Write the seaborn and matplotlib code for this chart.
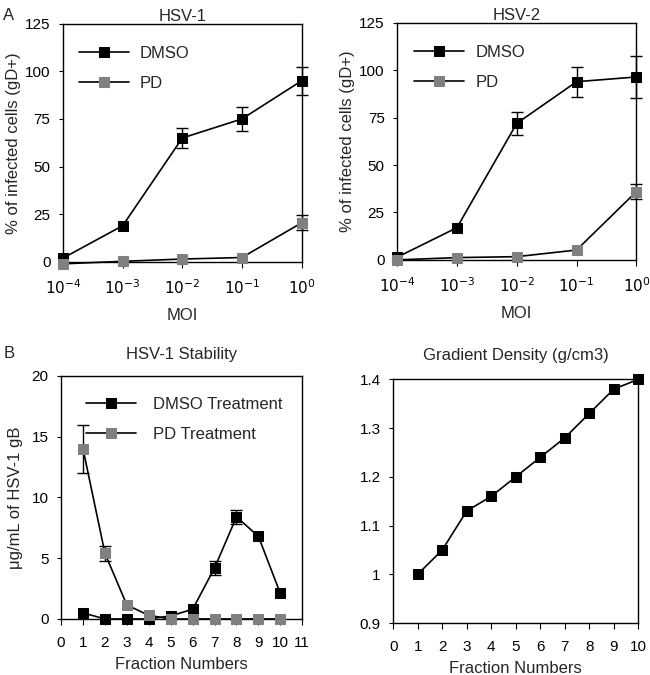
import numpy as np
import pandas as pd
import matplotlib
matplotlib.use("Agg")
import matplotlib.pyplot as plt
import seaborn as sns

# MOI infection data
moi = [1e-4, 1e-3, 1e-2, 1e-1, 1e0]
hsv1_dmso = [2, 19, 65, 75, 95]
hsv1_dmso_err = [0, 0, 5, 6.5, 7.5]
hsv1_pd = [-1, 0.3, 1.5, 2.3, 20.5]
hsv1_pd_err = [0, 0, 0, 0, 4]
hsv2_dmso = [1.4, 17, 72, 94, 96.5]
hsv2_dmso_err = [0, 0, 6, 8, 11]
hsv2_pd = [0, 1.2, 1.7, 5.2, 36]
hsv2_pd_err = [0, 0, 0, 0, 4]

# stability data
fractions = [1, 2, 3, 4, 5, 6, 7, 8, 9, 10]
stab_dmso = [0.5, 0, 0, 0, 0.25, 0.8, 4.2, 8.4, 6.8, 2.1]
stab_dmso_err = [0, 0, 0, 0, 0, 0, 0.6, 0.6, 0, 0]
stab_pd = [14, 5.4, 1.15, 0.3, 0, 0, 0, 0, 0, 0]
stab_pd_err = [2, 0.6, 0, 0, 0, 0, 0, 0, 0, 0]
density = [1.0, 1.05, 1.13, 1.16, 1.2, 1.24, 1.28, 1.33, 1.38, 1.4]

sns.set_style("ticks")
plt.rcParams['font.family'] = ['Liberation Sans', 'DejaVu Sans']
plt.rcParams['axes.linewidth'] = 1.0
plt.rcParams['xtick.major.size'] = 4
plt.rcParams['ytick.major.size'] = 3
plt.rcParams['xtick.major.pad'] = 8
plt.rcParams['ytick.major.pad'] = 6

GRAY = "#808080"
fig = plt.figure(figsize=(6.5, 6.75), dpi=100)

def draw_series(ax, x, y, err, color, label):
    df = pd.DataFrame({"x": x, "y": y})
    sns.lineplot(data=df, x="x", y="y", ax=ax, color="black", marker="s",
                 markersize=7, markerfacecolor=color, markeredgecolor=color,
                 linewidth=1.2, label=label, clip_on=False, zorder=3)
    e = np.array(err)
    m = e > 0
    ax.errorbar(np.array(x)[m], np.array(y)[m], yerr=e[m], fmt="none",
                ecolor="black", elinewidth=1, capsize=4, capthick=1,
                clip_on=False, zorder=2)

def style(ax, title, pad):
    for s in ax.spines.values():
        s.set_visible(True)
        s.set_color("black")
    ax.set_title(title, fontsize=12, pad=pad)
    ax.tick_params(labelsize=11, colors="black")

def moi_panel(ax, dmso, dmso_err, pd_, pd_err, title, lx):
    draw_series(ax, moi, dmso, dmso_err, "black", "DMSO")
    draw_series(ax, moi, pd_, pd_err, GRAY, "PD")
    ax.set_xscale("log")
    ax.set_xlim(1e-4, 1e0)
    ax.set_ylim(0, 125)
    ax.set_xticks(moi)
    ax.set_xticklabels([r"$10^{-4}$", r"$10^{-3}$", r"$10^{-2}$", r"$10^{-1}$", r"$10^{0}$"])
    ax.minorticks_off()
    ax.set_yticks([0, 25, 50, 75, 100, 125])
    ax.set_xlabel("MOI", fontsize=12, labelpad=8)
    ax.set_ylabel("% of infected cells (gD+)", fontsize=12, labelpad=3)
    ax.legend(loc="upper left", frameon=False, fontsize=12, handlelength=3.0,
              handletextpad=0.65, labelspacing=0.9, borderaxespad=0,
              bbox_to_anchor=(lx, 0.935))
    style(ax, title, 2)

ax1 = fig.add_axes([0.097, 0.612, 0.367, 0.353])
moi_panel(ax1, hsv1_dmso, hsv1_dmso_err, hsv1_pd, hsv1_pd_err, "HSV-1", 0.04)
ax2 = fig.add_axes([0.611, 0.615, 0.368, 0.351])
moi_panel(ax2, hsv2_dmso, hsv2_dmso_err, hsv2_pd, hsv2_pd_err, "HSV-2", 0.044)

ax3 = fig.add_axes([0.094, 0.083, 0.371, 0.36])
draw_series(ax3, fractions, stab_dmso, stab_dmso_err, "black", "DMSO Treatment")
draw_series(ax3, fractions, stab_pd, stab_pd_err, GRAY, "PD Treatment")
ax3.set_xlim(0, 11)
ax3.set_ylim(0, 20)
ax3.set_xticks(range(0, 12))
ax3.set_yticks([0, 5, 10, 15, 20])
ax3.set_xlabel("Fraction Numbers", fontsize=12, labelpad=5)
ax3.set_ylabel("μg/mL of HSV-1 gB", fontsize=12, labelpad=6)
ax3.legend(loc="upper left", frameon=False, fontsize=12, handlelength=3.0,
           handletextpad=1.0, labelspacing=0.9, borderaxespad=0,
           bbox_to_anchor=(0.075, 0.94))
style(ax3, "HSV-1 Stability", 12)

ax4 = fig.add_axes([0.605, 0.077, 0.377, 0.361])
df4 = pd.DataFrame({"x": fractions, "y": density})
sns.lineplot(data=df4, x="x", y="y", ax=ax4, color="black", marker="s",
             markersize=7, markerfacecolor="black", markeredgecolor="black",
             linewidth=1.2, clip_on=False, zorder=3)
ax4.set_xlim(0, 10)
ax4.set_ylim(0.9, 1.4)
ax4.set_xticks(range(0, 11))
ax4.set_yticks([0.9, 1.0, 1.1, 1.2, 1.3, 1.4])
ax4.set_yticklabels(["0.9", "1", "1.1", "1.2", "1.3", "1.4"])
ax4.set_xlabel("Fraction Numbers", fontsize=12, labelpad=5)
ax4.set_ylabel("")
style(ax4, "Gradient Density (g/cm3)", 14)

fig.text(0.005, 0.988, "A", fontsize=12, va="top")
fig.text(0.005, 0.487, "B", fontsize=12, va="top")

fig.savefig("out.png", dpi=100)
